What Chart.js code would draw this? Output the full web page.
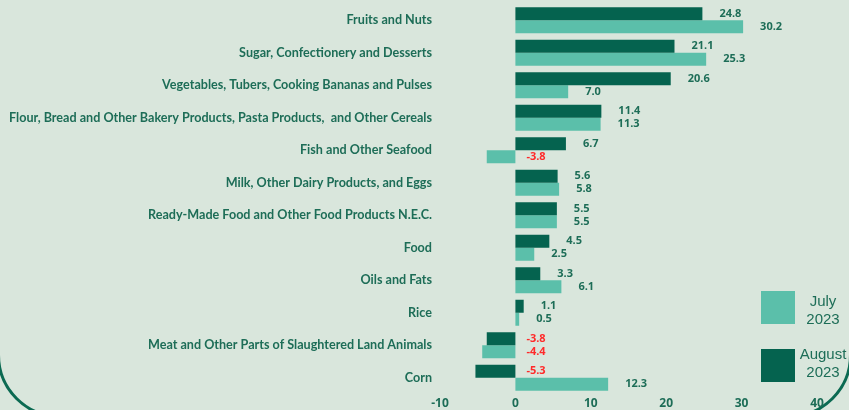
<!DOCTYPE html>
<html>
<head>
<meta charset="utf-8">
<script src="https://cdn.jsdelivr.net/npm/chart.js@4.4.0/dist/chart.umd.min.js"></script>
<style>
  html, body { margin: 0; padding: 0; background: #d9e6dc; overflow: hidden; }
  #wrap { position: relative; width: 849px; height: 410px; overflow: hidden; }
  #frame {
    position: absolute; left: -3px; right: -3px; top: -120px; bottom: -8px;
    border: 3px solid #0b6a52; border-radius: 63px;
  }
  #chartCanvas { position: absolute; left: 0; top: 0; }
  .key { position: absolute; width: 34px; height: 33px; }
  .keyText {
    position: absolute; width: 60px; text-align: center;
    font-family: "Liberation Sans", Arial, sans-serif; font-size: 15px;
    line-height: 18px; color: #1d6d57;
  }
</style>
</head>
<body>
<div id="wrap">
  <div id="frame"></div>
  <canvas id="chartCanvas" width="849" height="410"></canvas>
  <div class="key" style="left:761px;top:291px;background:#5bbfaa"></div>
  <div class="keyText" style="left:793px;top:292px">July<br>2023</div>
  <div class="key" style="left:761px;top:349px;background:#05634f"></div>
  <div class="keyText" style="left:793px;top:345px">August<br>2023</div>
</div>
<script>
// ================= DATA =================

const categories = [
    "Fruits and Nuts",
    "Sugar, Confectionery and Desserts",
    "Vegetables, Tubers, Cooking Bananas and Pulses",
    "Flour, Bread and Other Bakery Products, Pasta Products,  and Other Cereals",
    "Fish and Other Seafood",
    "Milk, Other Dairy Products, and Eggs",
    "Ready-Made Food and Other Food Products N.E.C.",
    "Food",
    "Oils and Fats",
    "Rice",
    "Meat and Other Parts of Slaughtered Land Animals",
    "Corn"
];

const august2023 = [24.8, 21.1, 20.6, 11.4, 6.7, 5.6, 5.5, 4.5, 3.3, 1.1, -3.8, -5.3];
const july2023   = [30.2, 25.3, 7.0, 11.3, -3.8, 5.8, 5.5, 2.5, 6.1, 0.5, -4.4, 12.3];

const xTicks = [-10, 0, 10, 20, 30, 40];

const DARK = "#05634f";
const LIGHT = "#5bbfaa";
const TEXT = "#1d6d57";
const NEG = "#ff2a2a";

// ================= VALUE LABELS =================

const valueLabels = {
    id: "valueLabels",
    afterDatasetsDraw(chart) {
        const ctx = chart.ctx;
        const zero = chart.scales.x.getPixelForValue(0);
        ctx.save();
        ctx.font = "bold 11px 'Open Sans', sans-serif";
        ctx.textBaseline = "middle";
        ctx.textAlign = "left";
        chart.data.datasets.forEach((ds, i) => {
            chart.getDatasetMeta(i).data.forEach((bar, j) => {
                const v = ds.data[j];
                if (v < 0) {
                    ctx.fillStyle = NEG;
                    ctx.fillText(v.toFixed(1), zero + 11, bar.y);
                } else {
                    ctx.fillStyle = TEXT;
                    ctx.fillText(v.toFixed(1), bar.x + 17, bar.y);
                }
            });
        });
        ctx.restore();
    }
};

// ================= CHART =================

new Chart(document.getElementById("chartCanvas"), {
    type: "bar",
    data: {
        labels: categories,
        datasets: [
            { label: "August 2023", data: august2023, backgroundColor: DARK },
            { label: "July 2023", data: july2023, backgroundColor: LIGHT }
        ]
    },
    options: {
        indexAxis: "y",
        responsive: false,
        animation: false,
        categoryPercentage: 0.8,
        barPercentage: 1.0,
        layout: { autoPadding: false, padding: { top: 4, right: 32, left: 0, bottom: 0 } },
        plugins: {
            legend: { display: false },
            tooltip: { enabled: false }
        },
        scales: {
            x: {
                min: -10,
                max: 40,
                afterBuildTicks: s => { s.ticks = xTicks.map(v => ({ value: v })); },
                afterFit: s => { s.height = 16; s.paddingLeft = 0; s.paddingRight = 0; },
                grid: { display: false, drawTicks: false },
                border: { display: false },
                ticks: {
                    padding: 2,
                    color: TEXT,
                    font: { family: "'Open Sans', sans-serif", size: 12, weight: "bold" }
                }
            },
            y: {
                afterFit: s => { s.width = 440; s.paddingTop = 0; s.paddingBottom = 0; },
                grid: { display: false, drawTicks: false },
                border: { display: false },
                ticks: {
                    padding: 8,
                    color: TEXT,
                    font: { family: "Lato, sans-serif", size: 12.6, weight: "bold" }
                }
            }
        }
    },
    plugins: [valueLabels]
});
</script>
</body>
</html>
